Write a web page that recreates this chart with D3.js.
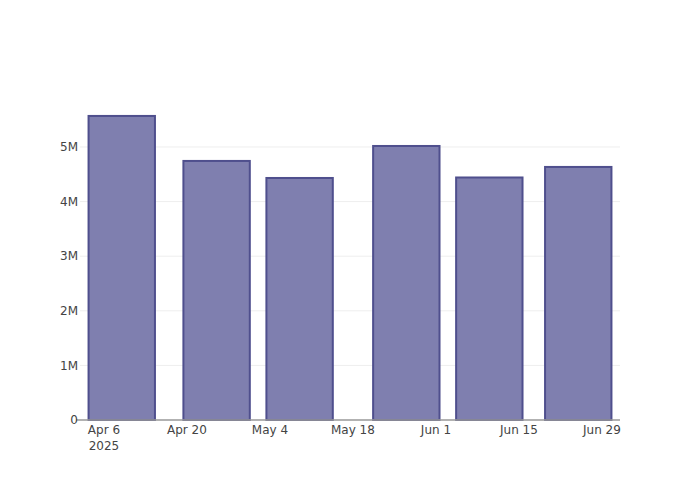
<!DOCTYPE html>
<html>
<head>
<meta charset="utf-8">
<script src="https://cdn.jsdelivr.net/npm/d3@7"></script>
<style>
  html, body { margin: 0; padding: 0; background: #fff; }
  text { font-family: "DejaVu Sans", sans-serif; }
</style>
</head>
<body>
<svg id="chart" width="700" height="500"></svg>
<script>
// Data
const dates = ["2025-04-09", "2025-04-25", "2025-05-09", "2025-05-27", "2025-06-10", "2025-06-25"];
const values = [5568000, 4744000, 4432000, 5018000, 4441000, 4634000];
const yTicks = [0, 1000000, 2000000, 3000000, 4000000, 5000000];
const yTickLabels = ["0", "1M", "2M", "3M", "4M", "5M"];
const xTicks = ["2025-04-06", "2025-04-20", "2025-05-04", "2025-05-18", "2025-06-01", "2025-06-15", "2025-06-29"];
const xTickLabels = ["Apr 6", "Apr 20", "May 4", "May 18", "Jun 1", "Jun 15", "Jun 29"];

const parse = d3.utcParse("%Y-%m-%d");
const W = 700, H = 500;
const m = { l: 80, r: 80, t: 100, b: 80 };
const svg = d3.select("#chart");

const x = d3.scaleUtc()
  .domain([new Date(Date.UTC(2025, 3, 1, 23, 0)), new Date(Date.UTC(2025, 6, 2, 1, 0))])
  .range([m.l, W - m.r]);
const y = d3.scaleLinear().domain([0, 5860000]).range([H - m.b, m.t]);

const dayMs = 86400000;
const barWidthMs = 0.8 * 14 * dayMs;

// gridlines
svg.append("g").selectAll("line").data(yTicks.slice(1)).join("line")
  .attr("x1", m.l).attr("x2", W - m.r)
  .attr("y1", d => y(d)).attr("y2", d => y(d))
  .attr("stroke", "#eee").attr("stroke-width", 1);

// bars
const data = dates.map((d, i) => ({ date: parse(d), value: values[i] }));
svg.append("g").selectAll("rect").data(data).join("rect")
  .attr("x", d => x(new Date(d.date.getTime() - barWidthMs / 2)))
  .attr("width", d => x(new Date(d.date.getTime() + barWidthMs / 2)) - x(new Date(d.date.getTime() - barWidthMs / 2)))
  .attr("y", d => y(d.value))
  .attr("height", d => y(0) - y(d.value))
  .attr("fill", "#7f7faf")
  .attr("stroke", "#4f4f8d")
  .attr("stroke-width", 2);

// x axis line
svg.append("line")
  .attr("x1", m.l - 4).attr("x2", W - m.r)
  .attr("y1", y(0)).attr("y2", y(0))
  .attr("stroke", "#999").attr("stroke-width", 1.5);

// y tick labels
svg.append("g").selectAll("text").data(yTicks).join("text")
  .attr("x", m.l - 2).attr("y", d => y(d))
  .attr("dy", "0.35em")
  .attr("text-anchor", "end")
  .attr("font-size", 12).attr("fill", "#444")
  .text((d, i) => yTickLabels[i]);

// x tick labels
const xg = svg.append("g");
xTicks.forEach((t, i) => {
  const tx = x(parse(t));
  const txt = xg.append("text")
    .attr("x", tx).attr("y", 434)
    .attr("text-anchor", "middle")
    .attr("font-size", 12).attr("fill", "#444");
  txt.append("tspan").attr("x", tx).text(xTickLabels[i]);
  if (i === 0) {
    txt.append("tspan").attr("x", tx).attr("dy", 15.5).text("2025");
  }
});
</script>
</body>
</html>
